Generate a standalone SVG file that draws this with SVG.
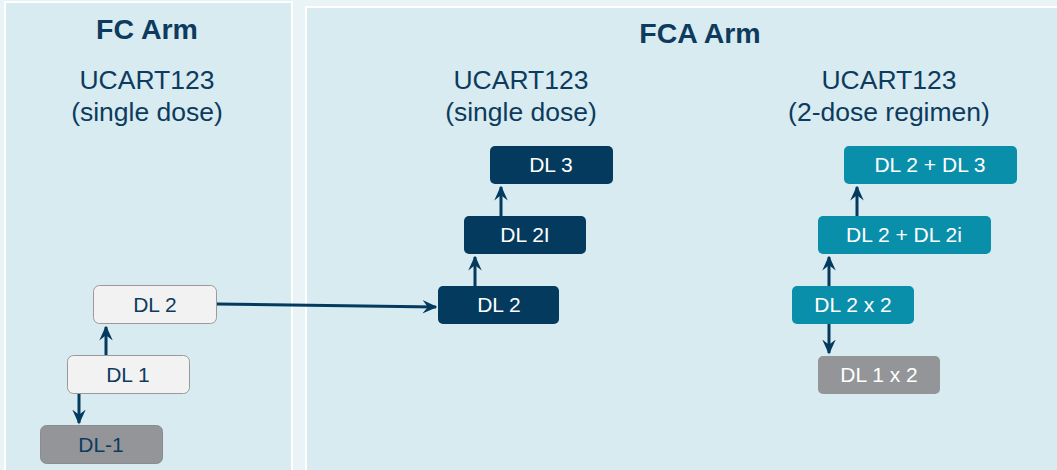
<svg xmlns="http://www.w3.org/2000/svg" width="1057" height="470" viewBox="0 0 1057 470">
<style>
text{font-family:"Liberation Sans",Arial,sans-serif;}
.panel{fill:#d8ebf1;stroke:#ffffff;stroke-width:2;}
.title{font-size:28.5px;font-weight:bold;fill:#0d3b5e;text-anchor:middle;}
.sub{font-size:26.5px;fill:#0d3b5e;text-anchor:middle;}
.lbl{font-size:21px;text-anchor:middle;}
.light rect{fill:#f2f2f2;stroke:#9a9a9a;stroke-width:1;}
.light text{fill:#0d3b5e;}
.gray rect{fill:#939598;stroke:#8a8c8f;stroke-width:1;}
.gray text{fill:#0d3b5e;}
.navy rect{fill:#033a5e;}
.navy text{fill:#ffffff;}
.teal rect{fill:#0a8fab;}
.teal text{fill:#ffffff;}
.gray2 rect{fill:#939598;}
.gray2 text{fill:#ffffff;}
.conn{stroke:#033a5e;stroke-width:3;fill:none;marker-end:url(#ah);}
</style>
<defs>
<marker id="ah" viewBox="0 0 10 10" refX="9" refY="5" markerWidth="5" markerHeight="5" orient="auto" markerUnits="strokeWidth">
<path d="M0,0.5 L10,5 L0,9.5 L3.5,5 Z" fill="#033a5e"/>
</marker>
</defs>
<rect x="0" y="0" width="1057" height="470" fill="#eaf3f6"/>
<g id="fc-panel">
<rect class="panel" x="5" y="2" width="287" height="475"/>
<text class="title" x="147" y="39">FC Arm</text>
<text class="sub" x="147" y="89">UCART123</text>
<text class="sub" x="147" y="121">(single dose)</text>
</g>
<g id="fca-panel">
<rect class="panel" x="306" y="7" width="752" height="470"/>
<text class="title" x="700" y="43">FCA Arm</text>
<text class="sub" x="521" y="89">UCART123</text>
<text class="sub" x="521" y="121">(single dose)</text>
<text class="sub" x="889" y="89">UCART123</text>
<text class="sub" x="889" y="121">(2-dose regimen)</text>
</g>
<g id="fc-dl2" class="light"><rect x="93.5" y="285.5" width="123" height="38" rx="6"/><text class="lbl" x="155" y="312">DL 2</text></g>
<g id="fc-dl1" class="light"><rect x="67.5" y="355.5" width="122" height="38" rx="6"/><text class="lbl" x="128" y="382">DL 1</text></g>
<g id="fc-dlm1" class="gray"><rect x="40.5" y="425.5" width="122" height="38" rx="6"/><text class="lbl" x="101" y="452">DL-1</text></g>
<g id="fca-dl2" class="navy"><rect x="438" y="286" width="121" height="38" rx="5"/><text class="lbl" x="499" y="312">DL 2</text></g>
<g id="fca-dl2i" class="navy"><rect x="464" y="216" width="122" height="38" rx="5"/><text class="lbl" x="525" y="242">DL 2I</text></g>
<g id="fca-dl3" class="navy"><rect x="490" y="146" width="123" height="38" rx="5"/><text class="lbl" x="551" y="172">DL 3</text></g>
<g id="r-dl2x2" class="teal"><rect x="792" y="286" width="122" height="38" rx="5"/><text class="lbl" x="853" y="312">DL 2 x 2</text></g>
<g id="r-dl2dl2i" class="teal"><rect x="818" y="216" width="173" height="38" rx="5"/><text class="lbl" x="904" y="242">DL 2 + DL 2i</text></g>
<g id="r-dl2dl3" class="teal"><rect x="844" y="146" width="173" height="38" rx="5"/><text class="lbl" x="930" y="172">DL 2 + DL 3</text></g>
<g id="r-dl1x2" class="gray2"><rect x="818" y="356" width="122" height="38" rx="5"/><text class="lbl" x="879" y="382">DL 1 x 2</text></g>
<g id="connectors">
<line class="conn" x1="106" y1="355" x2="106" y2="327"/>
<line class="conn" x1="79" y1="394" x2="79" y2="423"/>
<line class="conn" x1="217" y1="304" x2="436" y2="307"/>
<line class="conn" x1="475" y1="286" x2="475" y2="257"/>
<line class="conn" x1="501" y1="216" x2="501" y2="187"/>
<line class="conn" x1="829" y1="286" x2="829" y2="257"/>
<line class="conn" x1="857" y1="216" x2="857" y2="187"/>
<line class="conn" x1="829" y1="324" x2="829" y2="353"/>
</g>
</svg>
